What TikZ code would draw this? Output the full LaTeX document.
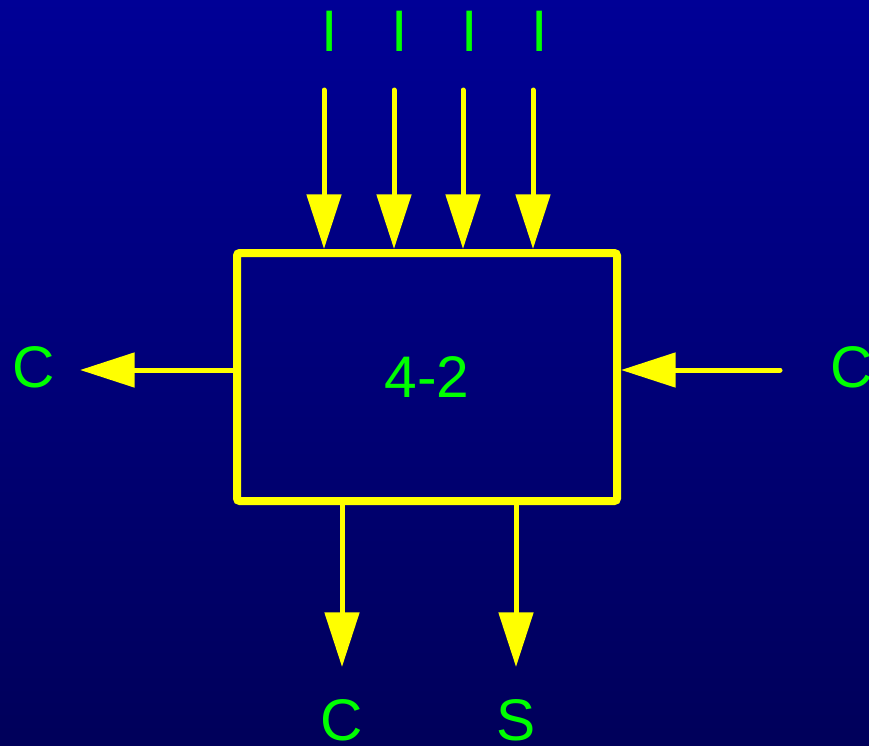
\documentclass[tikz,border=0pt]{standalone}
\usepackage{fontspec}
\setmainfont{Liberation Sans}
\usetikzlibrary{arrows.meta,calc,positioning}
\definecolor{fondoalto}{HTML}{000096}
\definecolor{fondobajo}{HTML}{00005A}
\definecolor{amarillo}{HTML}{FFFF00}
\definecolor{verde}{HTML}{00FF00}
\tikzset{
  caja/.style={rectangle,draw=amarillo,line width=6pt,rounded corners=2pt,minimum width=285pt,minimum height=186pt,inner sep=0pt,text=verde,font=\fontsize{44}{50}\selectfont},
  etiqueta/.style={inner sep=0pt,text=verde,font=\fontsize{44}{50}\selectfont},
  flecha/.style={draw=amarillo,line width=3.75pt,line cap=round,-{Triangle[length=41pt,width=25.5pt,fill=amarillo]}},
}

\begin{document}
\begin{tikzpicture}[x=0.75pt,y=-0.75pt]
\useasboundingbox (0,0) rectangle (869,746);
\clip (0,0) rectangle (869,746);
\shade[top color=fondoalto,bottom color=fondobajo] (0,0) rectangle (869,746);
\node[caja] (bloque) at (427,377) {4-2};
\node[etiqueta] (i1) at (330,31) {I};
\node[etiqueta] (i2) at (400,31) {I};
\node[etiqueta] (i3) at (470,31) {I};
\node[etiqueta] (i4) at (540,31) {I};
\node[etiqueta] (cizq) at (34,367) {C};
\node[etiqueta] (cder) at (852,367) {C};
\node[etiqueta] (cout) at (342,720) {C};
\node[etiqueta] (sout) at (516,720) {S};
\coordinate (e1) at (324,90);
\coordinate (e2) at (394,90);
\coordinate (e3) at (463,90);
\coordinate (e4) at (533,90);
\coordinate (ederf) at (780,370);
\coordinate (sizq) at (80,370);
\coordinate (s1) at (342,667);
\coordinate (s2) at (516,667);
\draw[flecha] (e1) -- (e1 |- bloque.north);
\draw[flecha] (e2) -- (e2 |- bloque.north);
\draw[flecha] (e3) -- (e3 |- bloque.north);
\draw[flecha] (e4) -- (e4 |- bloque.north);
\draw[flecha] (ederf) -- (ederf -| bloque.east);
\draw[flecha,line cap=butt] (sizq -| bloque.west) -- (sizq);
\draw[flecha,line cap=butt] (s1 |- bloque.south) -- (s1);
\draw[flecha,line cap=butt] (s2 |- bloque.south) -- (s2);
\end{tikzpicture}
\end{document}
